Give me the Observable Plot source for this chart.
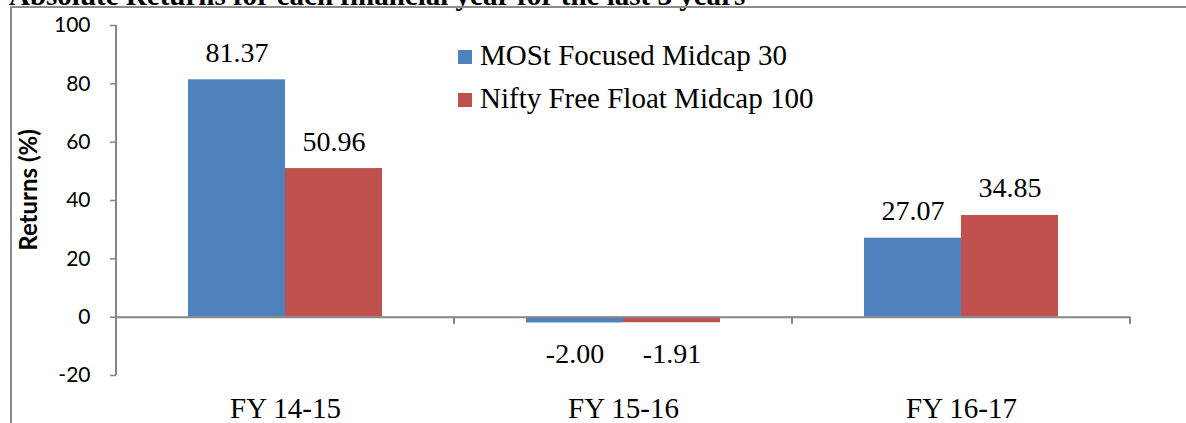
<!DOCTYPE html>
<html>
<head>
<meta charset="utf-8">
<script src="https://cdn.jsdelivr.net/npm/d3@7"></script>
<script src="https://cdn.jsdelivr.net/npm/@observablehq/plot@0.6"></script>
<style>
  html, body { margin: 0; padding: 0; background: white; overflow: hidden; }
  #wrap { position: relative; width: 1186px; height: 423px; overflow: hidden; }
  #title { position: absolute; left: 9px; top: -18px; font-family: "Liberation Serif", "Times New Roman", serif; font-weight: bold; font-size: 29px; line-height: 26px; white-space: nowrap; color: #000; }
  #frame { position: absolute; left: 10px; top: 6px; width: 1200px; height: 440px; border-left: 2px solid #8c8c8c; border-top: 2px solid #8c8c8c; pointer-events: none; }
  #chart { position: absolute; left: 0; top: 0; }
  .leg { position: absolute; left: 458px; font-family: "Liberation Serif", "Times New Roman", serif; font-size: 29px; line-height: 30px; white-space: nowrap; color: #000; }
  .leg span.sw { display: inline-block; width: 14px; height: 14px; margin-right: 8px; vertical-align: 1px; }
</style>
</head>
<body>
<div id="wrap">
  <div id="title">Absolute Returns for each financial year for the last 3 years</div>
  <div id="chart"></div>
  <div id="frame"></div>
  <div id="legend"></div>
</div>
<script>
const categories = ["FY 14-15", "FY 15-16", "FY 16-17"];
const seriesNames = ["MOSt Focused Midcap 30", "Nifty Free Float Midcap 100"];
const mostValues = [81.37, -2.00, 27.07];
const niftyValues = [50.96, -1.91, 34.85];
const yTicks = [-20, 0, 20, 40, 60, 80, 100];
const seriesColors = ["#4F81BD", "#C0504D"];

const rows = [];
categories.forEach((c, i) => {
  rows.push({category: c, series: seriesNames[0], value: mostValues[i]});
  rows.push({category: c, series: seriesNames[1], value: niftyValues[i]});
});

const serif = "Liberation Serif, Times New Roman, serif";

const plot = Plot.plot({
  width: 1186,
  height: 423,
  marginLeft: 116,
  marginRight: 56,
  marginTop: 25,
  marginBottom: 48,
  style: {background: "transparent", fontFamily: "Lato, sans-serif", color: "black"},
  fx: {domain: categories, padding: 0, axis: null},
  x: {domain: seriesNames, paddingInner: 0, paddingOuter: 0.742, axis: null},
  y: {domain: [-20, 100], axis: null},
  color: {domain: seriesNames, range: seriesColors},
  marks: [
    Plot.barY(rows, {fx: "category", x: "series", y: "value", fill: "series"}),
    Plot.ruleY([0], {stroke: "#868686", strokeWidth: 2}),
    Plot.axisY({ticks: yTicks, tickFormat: d => String(d), tickSize: 6, tickPadding: 20, stroke: "#868686", fill: "black", fontSize: 21, label: null, strokeWidth: 1.5}),
    Plot.text(rows.filter(d => d.value >= 0), {fx: "category", x: "series", y: "value", text: d => d.value.toFixed(2), dy: -27, lineAnchor: "middle", fontSize: 28, fontFamily: serif, fill: "black"}),
    Plot.text(rows.filter(d => d.value < 0), {fx: "category", x: "series", y: "value", text: d => d.value.toFixed(2), dy: 31, lineAnchor: "middle", fontSize: 28, fontFamily: serif, fill: "black"}),
    Plot.text(categories, {fx: d => d, frameAnchor: "bottom", text: d => d, dy: 33, lineAnchor: "middle", fontSize: 29, fontFamily: serif, fill: "black"})
  ]
});
document.getElementById("chart").appendChild(plot);

// Axis line and category boundary ticks drawn from the library's scales
const fx = plot.scale("fx");
const y = plot.scale("y");
const svg = d3.select(plot);
const bounds = categories.map(c => fx.apply(c)).concat([fx.apply(categories[categories.length - 1]) + fx.bandwidth]);
const y0 = y.apply(0);
svg.append("line")
  .attr("x1", bounds[0]).attr("x2", bounds[0])
  .attr("y1", y.apply(100)).attr("y2", y.apply(-20))
  .attr("stroke", "#868686").attr("stroke-width", 2);
svg.selectAll("line.bt").data(bounds).join("line")
  .attr("class", "bt")
  .attr("x1", d => d).attr("x2", d => d)
  .attr("y1", y0).attr("y2", y0 + 7)
  .attr("stroke", "#868686").attr("stroke-width", 2);
svg.append("text")
  .attr("transform", `translate(31, ${(y.apply(100) + y.apply(-20)) / 2 - 10}) rotate(-90)`)
  .attr("text-anchor", "middle")
  .attr("dominant-baseline", "middle")
  .attr("font-family", "Lato, sans-serif")
  .attr("font-weight", "bold")
  .attr("font-size", 24)
  .attr("fill", "black")
  .text("Returns (%)");

// Legend
const legend = document.getElementById("legend");
const legendTops = [40, 83];
seriesNames.forEach((s, i) => {
  const div = document.createElement("div");
  div.className = "leg";
  div.style.top = legendTops[i] + "px";
  div.innerHTML = `<span class="sw" style="background:${seriesColors[i]}"></span>${s}`;
  legend.appendChild(div);
});
</script>
</body>
</html>
